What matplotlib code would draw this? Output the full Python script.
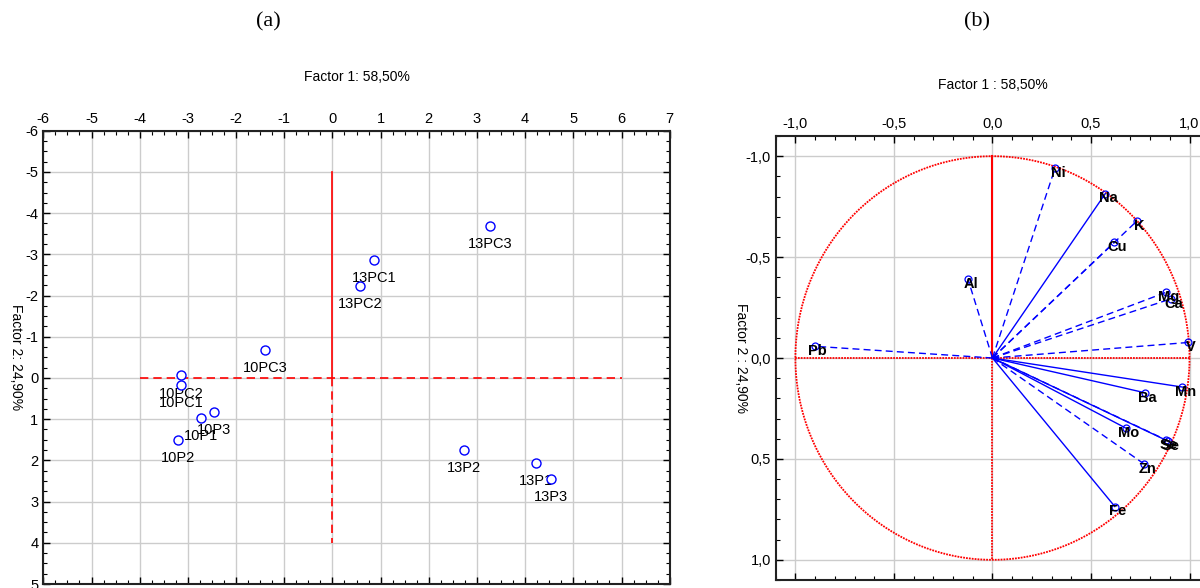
import numpy as np
import matplotlib.pyplot as plt
from matplotlib.ticker import MultipleLocator, FuncFormatter

plt.rcParams['font.family'] = ['Liberation Sans', 'DejaVu Sans']
plt.rcParams['axes.unicode_minus'] = False

# --- scores (a) ---
samples = ['10PC2', '10PC1', '10P1', '10P3', '10P2', '10PC3',
           '13PC3', '13PC1', '13PC2', '13P2', '13P1', '13P3']
f1_scores = [-3.14, -3.14, -2.72, -2.45, -3.20, -1.40,
             3.28, 0.86, 0.58, 2.73, 4.23, 4.54]
f2_scores = [-0.06, 0.16, 0.97, 0.83, 1.51, -0.68,
             -3.68, -2.86, -2.23, 1.74, 2.06, 2.45]

# --- loadings (b) ---
elements = ['Ni', 'Na', 'K', 'Cu', 'Al', 'Mg', 'Ca', 'Pb', 'V',
            'Mn', 'Ba', 'Mo', 'Se', 'Se', 'Zn', 'Fe']
f1_load = [0.318, 0.573, 0.732, 0.619, -0.125, 0.879, 0.905, -0.901, 0.994,
           0.964, 0.773, 0.676, 0.880, 0.892, 0.771, 0.621]
f2_load = [-0.942, -0.815, -0.678, -0.574, -0.393, -0.325, -0.293, -0.058, -0.077,
           0.144, 0.172, 0.347, 0.407, 0.411, 0.526, 0.736]
load_style = ['--', '-', '--', '--', '--', '--', '--', '--', '--',
              '-', '-', '-', '-', '--', '--', '-']

fig = plt.figure(figsize=(12, 5.88), dpi=100)

fig.text(0.2233, 0.962, '(a)', family='Liberation Serif', fontsize=16, ha='center', va='center')
fig.text(0.814, 0.962, '(b)', family='Liberation Serif', fontsize=16, ha='center', va='center')


def frame(ax):
    ax.xaxis.tick_top()
    ax.xaxis.set_label_position('top')
    ax.tick_params(which='both', direction='in', top=True, bottom=True, left=True, right=True,
                   labeltop=True, labelbottom=False, labelsize=10.5, colors='black')
    ax.tick_params(which='major', length=5, width=1)
    ax.tick_params(which='minor', length=3, width=0.8)
    for s in ax.spines.values():
        s.set_linewidth(1.5)
        s.set_color('#222222')
    ax.grid(True, which='major', color='#cccccc', lw=1)
    ax.set_axisbelow(True)


#*-- panel (a) ---------------------------------------------------------
ax1 = fig.add_axes([0.0361, 0.0068, 0.5220, 0.7709])
ax1.set_xlim(-6, 7)
ax1.set_ylim(5, -6)
ax1.xaxis.set_major_locator(MultipleLocator(1))
ax1.xaxis.set_minor_locator(MultipleLocator(0.25))
ax1.yaxis.set_major_locator(MultipleLocator(1))
ax1.yaxis.set_minor_locator(MultipleLocator(0.25))
frame(ax1)
ax1.set_xlabel('Factor 1: 58,50%', fontsize=10, labelpad=22)
ax1.set_ylabel('Factor 2: 24,90%', fontsize=10, rotation=270, labelpad=16)
ax1.yaxis.set_label_coords(-0.055, 0.5)

ax1.plot([0, 0], [-5, 0], color='red', lw=1.2)
ax1.plot([0, 0], [0, 4], color='red', lw=1.2, ls=(0, (5, 3)))
ax1.plot([-4, 6], [0, 0], color='red', lw=1.2, ls=(0, (5, 3)))

ax1.plot(f1_scores, f2_scores, 'o', mfc='white', mec='blue', ms=6.5, mew=1.0, ls='none', zorder=4)
for name, x, y in zip(samples, f1_scores, f2_scores):
    ax1.annotate(name, (x, y), xytext=(0, -13), textcoords='offset points',
                 ha='center', va='center', fontsize=10.5, zorder=3)

#*-- panel (b) ---------------------------------------------------------
ax2 = fig.add_axes([0.6464, 0.0136, 0.3613, 0.7551])
ax2.set_xlim(-1.1, 1.1)
ax2.set_ylim(1.1, -1.1)
ax2.xaxis.set_major_locator(MultipleLocator(0.5))
ax2.xaxis.set_minor_locator(MultipleLocator(0.1))
ax2.yaxis.set_major_locator(MultipleLocator(0.5))
ax2.yaxis.set_minor_locator(MultipleLocator(0.1))
comma = FuncFormatter(lambda v, p: '{:.1f}'.format(v).replace('.', ',').replace('-0,0', '0,0'))
ax2.xaxis.set_major_formatter(comma)
ax2.yaxis.set_major_formatter(comma)
frame(ax2)
ax2.set_xlabel('Factor 1 : 58,50%', fontsize=10, labelpad=20)
ax2.set_ylabel('Factor 2 : 24,90%', fontsize=10, rotation=270, labelpad=16)
ax2.yaxis.set_label_coords(-0.095, 0.5)

th = np.linspace(0, 2 * np.pi, 400)
ax2.plot(np.cos(th), np.sin(th), color='red', lw=1.3, ls=(0, (1, 0.6)))
ax2.plot([0, 0], [-1, 0], color='red', lw=1.5)
ax2.plot([0, 0], [0, 1], color='red', lw=1.3, ls=(0, (1, 0.6)))
ax2.plot([-1, 1], [0, 0], color='red', lw=1.3, ls=(0, (1, 0.6)))

for name, x, y, st in zip(elements, f1_load, f2_load, load_style):
    ls = '-' if st == '-' else (0, (5, 3))
    ax2.plot([0, x], [0, y], color='blue', lw=1.0, ls=ls, zorder=3)
ax2.plot(f1_load, f2_load, 'o', mfc='none', mec='blue', ms=5, mew=0.9, ls='none', zorder=4)
for name, x, y in zip(elements, f1_load, f2_load):
    ax2.annotate(name, (x, y), xytext=(2, -3.5), textcoords='offset points',
                 ha='center', va='center', fontsize=10.5, fontweight='bold', zorder=5)

fig.savefig('out.png', dpi=100)
